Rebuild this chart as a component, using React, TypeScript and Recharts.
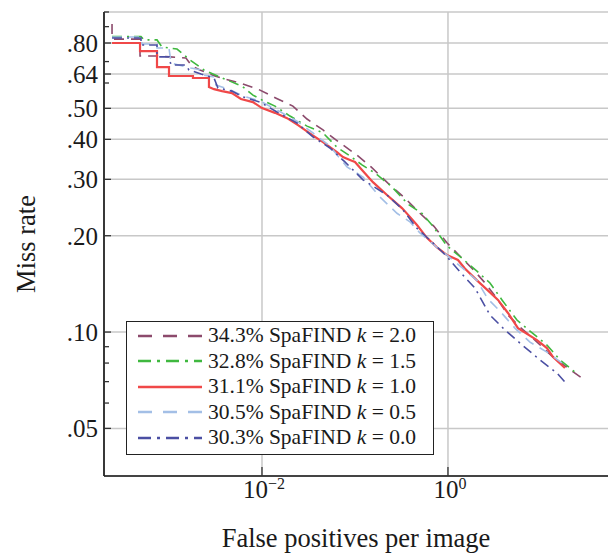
import React from "react";
import { LineChart, Line, XAxis, YAxis, ReferenceLine, Legend, Label } from "recharts";

// ---- data (FPPI vs miss rate) ----
const fppiK20 = [0.000244, 0.000244, 0.000488, 0.000488, 0.000743, 0.00103, 0.00152, 0.00177, 0.00215, 0.00312, 0.004, 0.0058, 0.00906, 0.0142, 0.0215, 0.0305, 0.0453, 0.069, 0.105, 0.149, 0.226, 0.345, 0.5, 0.707, 0.975, 1.31, 1.9, 2.56, 3.45, 4.42, 5.94, 8.61, 14.2, 19.5, 27.6];
const missK20 = [0.917, 0.823, 0.823, 0.729, 0.729, 0.724, 0.718, 0.678, 0.659, 0.631, 0.617, 0.6, 0.574, 0.538, 0.508, 0.463, 0.428, 0.39, 0.357, 0.328, 0.292, 0.262, 0.235, 0.214, 0.19, 0.174, 0.156, 0.1413, 0.126, 0.113, 0.1037, 0.0944, 0.0823, 0.0772, 0.0718];

const fppiK15 = [0.000244, 0.0005, 0.000538, 0.000743, 0.000841, 0.00122, 0.00168, 0.00238, 0.00353, 0.00609, 0.008, 0.01, 0.0138, 0.02, 0.0305, 0.0453, 0.064, 0.0883, 0.119, 0.164, 0.25, 0.372, 0.525, 0.69, 0.975, 1.35, 2.05, 2.83, 3.81, 5.52, 7.62, 11.6, 16.0, 23.2];
const missK15 = [0.838, 0.838, 0.818, 0.818, 0.777, 0.766, 0.708, 0.659, 0.626, 0.587, 0.55, 0.531, 0.508, 0.473, 0.44, 0.419, 0.378, 0.355, 0.333, 0.314, 0.284, 0.251, 0.235, 0.214, 0.186, 0.172, 0.155, 0.1423, 0.126, 0.109, 0.1007, 0.0911, 0.0818, 0.075];

const fppiK10 = [0.000244, 0.000488, 0.000488, 0.000743, 0.000743, 0.001, 0.001, 0.00181, 0.00181, 0.00269, 0.00269, 0.00305, 0.00372, 0.00475, 0.00594, 0.008, 0.01, 0.0138, 0.0186, 0.0244, 0.0345, 0.0453, 0.064, 0.0743, 0.0883, 0.1, 0.119, 0.156, 0.221, 0.32, 0.39, 0.464, 0.594, 0.762, 0.975, 1.28, 1.52, 2.05, 2.83, 3.45, 4.42, 5.66, 9.06, 11.6, 13.5, 18.1];
const missK10 = [0.8, 0.8, 0.755, 0.755, 0.673, 0.673, 0.631, 0.631, 0.622, 0.622, 0.583, 0.574, 0.566, 0.558, 0.535, 0.523, 0.501, 0.484, 0.466, 0.443, 0.413, 0.392, 0.365, 0.352, 0.345, 0.34, 0.321, 0.294, 0.268, 0.244, 0.229, 0.216, 0.197, 0.184, 0.174, 0.168, 0.158, 0.145, 0.133, 0.126, 0.1147, 0.1029, 0.0944, 0.0891, 0.0835, 0.0772];

const fppiK05 = [0.000244, 0.0005, 0.000513, 0.000743, 0.000743, 0.001, 0.00105, 0.00172, 0.00221, 0.00238, 0.00305, 0.0032, 0.00465, 0.00625, 0.00952, 0.0145, 0.0238, 0.0353, 0.0538, 0.082, 0.122, 0.186, 0.283, 0.39, 0.5, 0.762, 0.975, 1.45, 2.05, 2.69, 3.62, 5.25, 7.62, 11.6, 18.1];
const missK05 = [0.835, 0.835, 0.794, 0.794, 0.772, 0.772, 0.693, 0.668, 0.659, 0.635, 0.626, 0.591, 0.57, 0.546, 0.527, 0.494, 0.456, 0.419, 0.381, 0.328, 0.305, 0.264, 0.235, 0.221, 0.204, 0.184, 0.174, 0.158, 0.145, 0.1268, 0.1163, 0.1029, 0.093, 0.0866, 0.0788];

const fppiK00 = [0.000244, 0.0005, 0.0005, 0.000743, 0.000743, 0.001, 0.00105, 0.00152, 0.00164, 0.00221, 0.00305, 0.00336, 0.00475, 0.00625, 0.00952, 0.0145, 0.0238, 0.0353, 0.0538, 0.078, 0.122, 0.221, 0.328, 0.464, 0.69, 0.975, 1.35, 1.95, 2.83, 4.1, 5.94, 9.75, 14.9, 18.1];
const missK00 = [0.829, 0.829, 0.789, 0.789, 0.724, 0.724, 0.683, 0.683, 0.659, 0.64, 0.622, 0.579, 0.566, 0.543, 0.523, 0.487, 0.45, 0.407, 0.376, 0.34, 0.299, 0.268, 0.241, 0.211, 0.19, 0.172, 0.154, 0.1372, 0.113, 0.1015, 0.0924, 0.0818, 0.0744, 0.0698];

const seriesNames = ["34.3% SpaFIND", "32.8% SpaFIND", "31.1% SpaFIND", "30.5% SpaFIND", "30.3% SpaFIND"];
const kValues = ["2.0", "1.5", "1.0", "0.5", "0.0"];

const yMajorTicks = [0.05, 0.1, 0.2, 0.3, 0.4, 0.5, 0.64, 0.8];
const yTickLabels = [".05", ".10", ".20", ".30", ".40", ".50", ".64", ".80"];
const yMinorTicks = [0.06, 0.07, 0.08, 0.09, 0.6, 0.7, 0.9, 1.0];
const xTicks = [0.01, 1];
const xTickExponents = ["\u22122", "0"];

// ---- build ----
const zip = (f: number[], m: number[]) => f.map((x, i) => ({ x, y: m[i] }));

const FONT = "'Liberation Serif', 'Times New Roman', serif";

const series = [
  { name: seriesNames[0], k: kValues[0], data: zip(fppiK20, missK20), color: "#8c4a6c", dash: "10 7", legendDash: "14 11", width: 1.6 },
  { name: seriesNames[1], k: kValues[1], data: zip(fppiK15, missK15), color: "#3fb83f", dash: "10 5 2 5", legendDash: "13 6 3 6", width: 1.6 },
  { name: seriesNames[2], k: kValues[2], data: zip(fppiK10, missK10), color: "#f04848", dash: undefined, legendDash: undefined, width: 2.2 },
  { name: seriesNames[3], k: kValues[3], data: zip(fppiK05, missK05), color: "#a3bfe6", dash: "10 7", legendDash: "14 11", width: 1.6 },
  { name: seriesNames[4], k: kValues[4], data: zip(fppiK00, missK00), color: "#4b4fa3", dash: "10 5 2 5", legendDash: "13 6 3 6", width: 1.6 },
];

const allYTicks = [...yMajorTicks, ...yMinorTicks].sort((a, b) => a - b);
const gridY = [...yMajorTicks, 1.0];

const YTick = (props: any) => {
  const { x, y, payload } = props;
  const idx = yMajorTicks.indexOf(payload.value);
  const major = idx >= 0;
  return (
    <g>
      <line x1={x} x2={x + (major ? 7 : 5)} y1={y} y2={y} stroke="#333" strokeWidth={1.3} />
      {major && (
        <text x={x - 6} y={y} dy="0.36em" textAnchor="end" fontSize={25} fontFamily={FONT} fill="#1a1a1a">
          {yTickLabels[idx]}
        </text>
      )}
    </g>
  );
};

const XTick = (props: any) => {
  const { x, y, payload } = props;
  const idx = xTicks.indexOf(payload.value);
  return (
    <g>
      <line x1={x} x2={x} y1={y} y2={y - 9} stroke="#333" strokeWidth={1.3} />
      <text x={x + 2} y={y + 22} textAnchor="middle" fontFamily={FONT} fill="#1a1a1a">
        <tspan fontSize={25}>10</tspan>
        <tspan fontSize={16} dy={-9}>{xTickExponents[idx]}</tspan>
      </text>
    </g>
  );
};

const LegendBox = () => (
  <div
    style={{
      border: "1.5px solid #222",
      background: "#fff",
      padding: "1px 17px 3px 11px",
      fontFamily: FONT,
      fontSize: 21.5,
      color: "#1a1a1a",
      lineHeight: "25.5px",
      whiteSpace: "nowrap",
    }}
  >
    {series.map((s) => (
      <div key={s.name + s.k} style={{ display: "flex", alignItems: "center", height: 25.5 }}>
        <svg width={64} height={10} style={{ marginRight: 6 }}>
          <line x1={0} x2={64} y1={5} y2={5} stroke={s.color} strokeWidth={2.3} strokeDasharray={s.legendDash} />
        </svg>
        <span>
          {s.name} <i>k</i> = {s.k}
        </span>
      </div>
    ))}
  </div>
);

export default function App() {
  return (
    <div style={{ position: "absolute", left: 0, top: 0, background: "#fff" }}>
      <LineChart width={608} height={556} margin={{ top: 12, right: 0, bottom: 0, left: 0 }}>
        <XAxis
          dataKey="x"
          type="number"
          scale="log"
          domain={[0.0002, 52.6]}
          allowDataOverflow
          ticks={xTicks}
          tick={<XTick />}
          tickSize={0}
          tickMargin={0}
          tickLine={false}
          height={80}
          axisLine={{ stroke: "#444", strokeWidth: 1.8 }}
          interval={0}
        >
          <Label
            content={(p: any) => (
              <text
                x={p.viewBox.x + p.viewBox.width / 2}
                y={p.viewBox.y + 71}
                textAnchor="middle"
                fontSize={26.5}
                fontFamily={FONT}
                fill="#1a1a1a"
              >
                False positives per image
              </text>
            )}
          />
        </XAxis>
        <YAxis
          type="number"
          scale="log"
          domain={[0.0355, 1]}
          allowDataOverflow
          ticks={allYTicks}
          tick={<YTick />}
          tickSize={0}
          tickMargin={0}
          tickLine={false}
          width={104}
          axisLine={{ stroke: "#222", strokeWidth: 1.8 }}
          interval={0}
        >
          <Label
            content={(p: any) => (
              <text
                x={35}
                y={p.viewBox.y + p.viewBox.height / 2}
                transform={`rotate(-90, 35, ${p.viewBox.y + p.viewBox.height / 2})`}
                textAnchor="middle"
                fontSize={26.5}
                fontFamily={FONT}
                fill="#1a1a1a"
              >
                Miss rate
              </text>
            )}
          />
        </YAxis>
        {gridY.map((v) => (
          <ReferenceLine key={"gy" + v} y={v} stroke="#c8c8c8" strokeWidth={1.5} />
        ))}
        {xTicks.map((v) => (
          <ReferenceLine key={"gx" + v} x={v} stroke="#c8c8c8" strokeWidth={1.5} />
        ))}
        {series.map((s) => (
          <Line
            key={s.name + s.k}
            data={s.data}
            dataKey="y"
            name={`${s.name} k = ${s.k}`}
            type="linear"
            stroke={s.color}
            strokeWidth={s.width}
            strokeDasharray={s.dash}
            dot={false}
            activeDot={false}
            isAnimationActive={false}
          />
        ))}
        <Legend
          layout="vertical"
          align="center"
          verticalAlign="middle"
          content={() => <LegendBox />}
          wrapperStyle={{ position: "absolute", left: 126, top: 321, width: "auto", height: "auto" }}
        />
      </LineChart>
    </div>
  );
}
